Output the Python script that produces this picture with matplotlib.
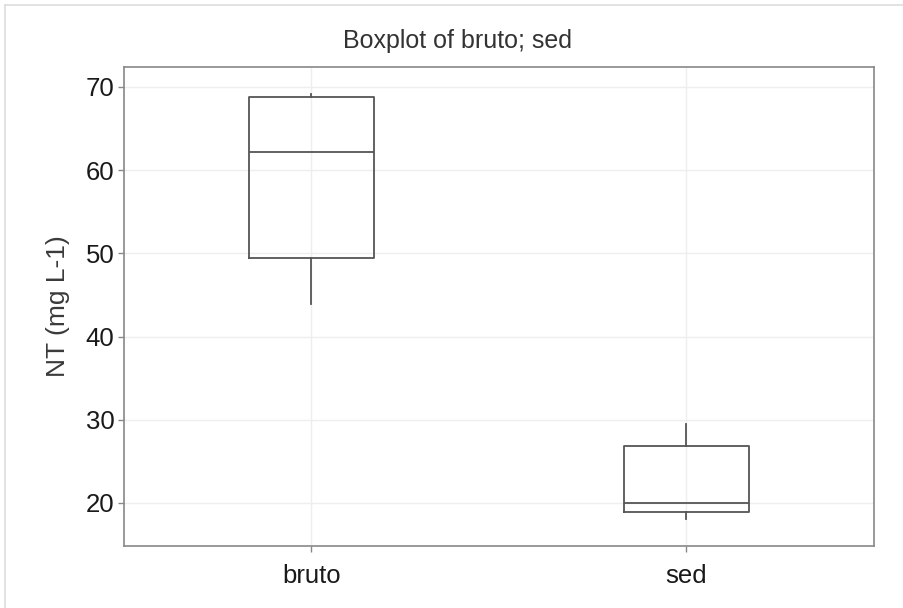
import matplotlib
matplotlib.use("Agg")
import matplotlib.pyplot as plt
from matplotlib.lines import Line2D

plt.rcParams['font.family'] = ['Liberation Sans', 'DejaVu Sans']

groups = ["bruto", "sed"]
whisker_low = [43.9, 18.1]
q1 = [49.4, 18.9]
median = [62.2, 20.0]
q3 = [68.8, 26.8]
whisker_high = [69.2, 29.5]

yticks = [20, 30, 40, 50, 60, 70]

fig = plt.figure(figsize=(9.04, 6.08), dpi=100)
ax = fig.add_axes([124 / 904, 1 - 546 / 608, 750 / 904, 479 / 608])

stats = [
    dict(label=g, whislo=lo, q1=a, med=m, q3=b, whishi=hi)
    for g, lo, a, m, b, hi in zip(groups, whisker_low, q1, median, q3, whisker_high)
]

edge = "#555555"
ax.bxp(
    stats,
    positions=[1, 2],
    widths=0.335,
    showfliers=False,
    showcaps=False,
    boxprops=dict(color=edge, linewidth=1.3),
    medianprops=dict(color=edge, linewidth=1.3),
    whiskerprops=dict(color=edge, linewidth=1.3),
    zorder=3,
)

ax.set_xlim(0.5, 2.5)
ax.set_ylim(14.83, 72.4)
ax.set_yticks(yticks)
ax.set_xticks([1, 2])
ax.set_xticklabels(groups)

ax.grid(True, color="#eeeeee", linewidth=1.0, zorder=0)
ax.set_axisbelow(True)

for s in ax.spines.values():
    s.set_color("#888888")
    s.set_linewidth(1.2)

ax.tick_params(axis="both", colors="#888888", labelcolor="#1a1a1a",
               labelsize=18.5, length=4, width=1)
ax.tick_params(axis="x", pad=9)
ax.tick_params(axis="y", pad=3)

ax.set_ylabel("NT (mg L-1)", fontsize=19, color="#3a3a3a", labelpad=11)
fig.text(458 / 904, 1 - 41 / 608, "Boxplot of bruto; sed",
         ha="center", va="center", fontsize=18, color="#333333")

# thin frame around the figure on the top and left sides
fig.add_artist(Line2D([5 / 904, 5 / 904], [0, 1 - 5 / 608],
                      transform=fig.transFigure, color="#dddddd", linewidth=1.2))
fig.add_artist(Line2D([5 / 904, 1], [1 - 5 / 608, 1 - 5 / 608],
                      transform=fig.transFigure, color="#dddddd", linewidth=1.2))

fig.savefig("out.png", dpi=100)
